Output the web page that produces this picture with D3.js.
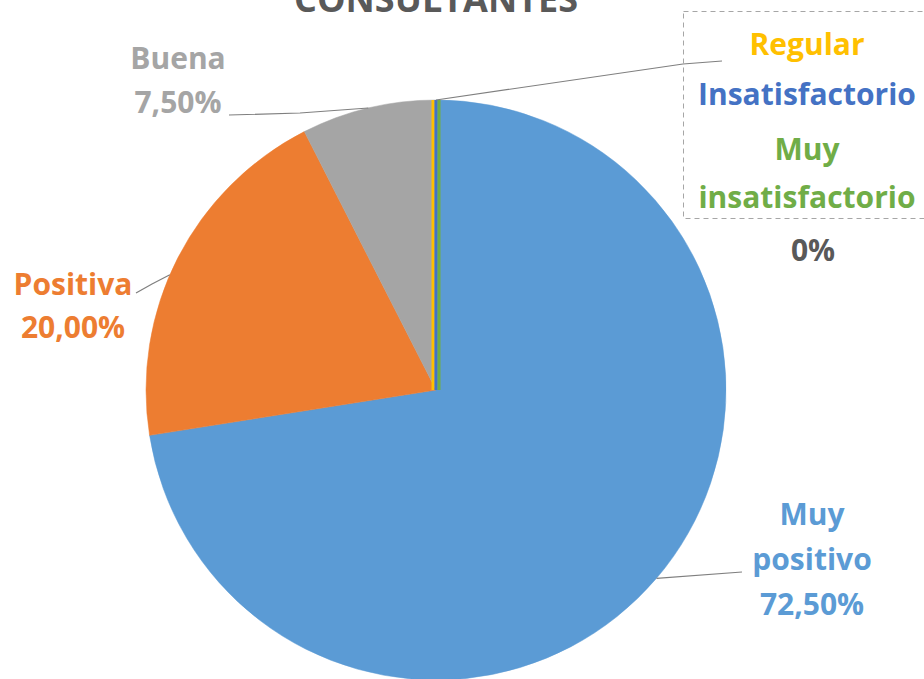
<!DOCTYPE html>
<html>
<head>
<meta charset="utf-8">
<script src="https://cdn.jsdelivr.net/npm/d3@7"></script>
<style>
  html, body { margin: 0; padding: 0; background: #ffffff; }
  svg { display: block; }
  text { font-family: "Open Sans", Lato, sans-serif; font-weight: 700; }
</style>
</head>
<body>
<svg id="chart" width="924" height="679"></svg>
<script>
// Survey results: satisfaction of consultants
const title = "CONSULTANTES";
const categories = ["Muy positivo", "Positiva", "Buena", "Regular", "Insatisfactorio", "Muy insatisfactorio"];
const values = [72.5, 20.0, 7.5, 0, 0, 0];
const sliceColors = ["#5b9bd5", "#ed7d31", "#a5a5a5", "#ffc000", "#4472c4", "#70ad47"];
const labelColors = ["#5b9bd5", "#ed7d31", "#a5a5a5", "#ffc000", "#4472c4", "#70ad47"];

const width = 924, height = 679;
const cx = 436, cy = 390, radius = 290;
const fontSize = 30;

const fmt = v => d3.format(".2f")(v).replace(".", ",") + "%";

const svg = d3.select("#chart");

// Title (partly above the top edge)
svg.append("text")
  .attr("x", 436).attr("y", 12)
  .attr("text-anchor", "middle")
  .attr("font-size", 36)
  .attr("fill", "#595959")
  .text(title);

const pie = d3.pie().sort(null).value(d => d.value).startAngle(0).endAngle(2 * Math.PI);
const arc = d3.arc().innerRadius(0).outerRadius(radius);
const data = categories.map((c, i) => ({ name: c, value: values[i], color: sliceColors[i], labelColor: labelColors[i] }));
const arcs = pie(data);

const g = svg.append("g").attr("transform", `translate(${cx},${cy})`);

// Slices; empty categories collapse to a thin line at the start angle
g.selectAll("path.slice")
  .data(arcs)
  .join("path")
  .attr("class", "slice")
  .attr("d", arc)
  .attr("fill", d => d.data.color)
  .attr("stroke", d => d.data.color)
  .attr("stroke-width", d => d.value === 0 ? 3 : 0.5)
  .attr("transform", (d, i) => d.value === 0 ? `translate(${(i - 4) * 3},0)` : null);

// Point on the pie rim at a given angle (radians, clockwise from 12 o'clock)
const rim = a => [cx + radius * Math.sin(a), cy - radius * Math.cos(a)];

const leaderColor = "#7f7f7f";
function leader(points) {
  svg.append("path")
    .attr("d", d3.line()(points))
    .attr("fill", "none")
    .attr("stroke", leaderColor)
    .attr("stroke-width", 1.2);
}

function label(lines, x, y0, step, color) {
  const t = svg.append("text")
    .attr("text-anchor", "middle")
    .attr("font-size", fontSize)
    .attr("fill", color);
  lines.forEach((s, k) => {
    t.append("tspan").attr("x", x).attr("y", y0 + k * step).text(s);
  });
}

// Muy positivo
{
  const d = arcs[0];
  const mid = (d.startAngle + d.endAngle) / 2;
  leader([rim(mid), [742, 572]]);
  label(["Muy", "positivo", fmt(d.data.value)], 812, 525, 45, d.data.labelColor);
}
// Positiva
{
  const d = arcs[1];
  leader([rim(d.startAngle + (d.endAngle - d.startAngle) * 0.45), [152, 284], [136, 293]]);
  label([d.data.name, fmt(d.data.value)], 73, 295, 43, d.data.labelColor);
}
// Buena
{
  const d = arcs[2];
  const mid = (d.startAngle + d.endAngle) / 2;
  leader([rim(mid), [300, 113], [229, 115]]);
  label([d.data.name, fmt(d.data.value)], 178, 69, 44, d.data.labelColor);
}
// Empty categories share one label box
{
  const d = arcs[3];
  leader([rim(d.startAngle), [683, 64], [722, 61]]);
  svg.append("rect")
    .attr("x", 683.5).attr("y", 11.5)
    .attr("width", 260).attr("height", 207)
    .attr("fill", "none")
    .attr("stroke", "#a6a6a6")
    .attr("stroke-width", 1)
    .attr("stroke-dasharray", "5,4");
  const lines = [
    { s: categories[3], c: labelColors[3], y: 55 },
    { s: categories[4], c: labelColors[4], y: 105 },
    { s: "Muy", c: labelColors[5], y: 160 },
    { s: "insatisfactorio", c: labelColors[5], y: 208 }
  ];
  lines.forEach(l => {
    svg.append("text").attr("x", 807).attr("y", l.y)
      .attr("text-anchor", "middle").attr("font-size", fontSize)
      .attr("fill", l.c).text(l.s);
  });
  svg.append("text").attr("x", 813).attr("y", 261)
    .attr("text-anchor", "middle").attr("font-size", fontSize)
    .attr("fill", "#595959").text(d3.format(".0f")(d.data.value) + "%");
}
</script>
</body>
</html>
